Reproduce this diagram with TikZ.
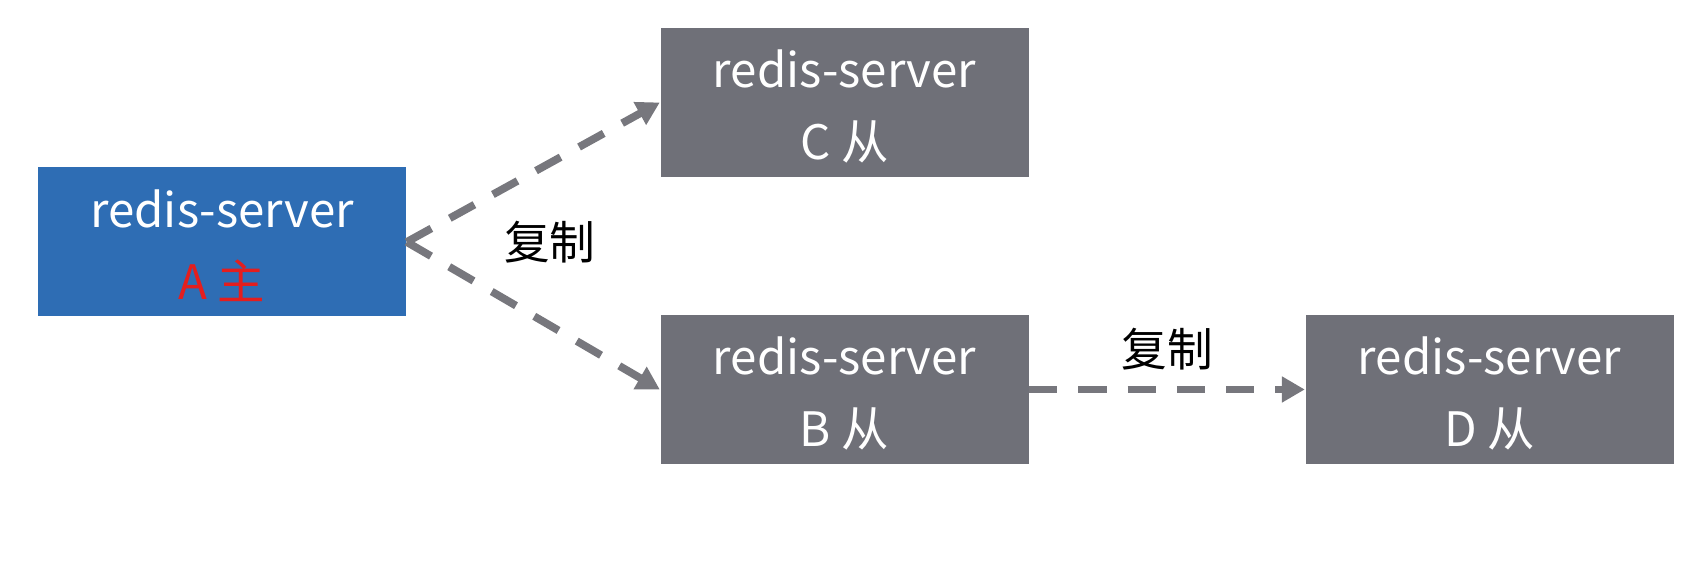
\documentclass[tikz,border=0pt]{standalone}
\usepackage{fontspec}
\setmainfont{Noto Sans CJK SC}
\usetikzlibrary{arrows.meta}
\definecolor{masterblue}{RGB}{46,109,180}
\definecolor{slavegray}{RGB}{111,112,120}
\definecolor{arrowgray}{RGB}{119,119,125}
\definecolor{masterred}{RGB}{228,30,30}
\tikzset{
    server/.style={minimum width=3.68cm, minimum height=1.49cm, inner sep=0pt,
        align=center, text=white, font=\fontsize{13.5}{20.5}\selectfont},
    master/.style={server, fill=masterblue},
    slave/.style={server, fill=slavegray},
    copyline/.style={draw=arrowgray, line width=2.2pt, dash pattern=on 8pt off 6pt,
        -{Triangle[length=6.5pt,width=7pt]}},
    copylabel/.style={font=\fontsize{13}{15}\selectfont}
}
\begin{document}
\begin{tikzpicture}
    % constants
    \def\leftcol{2.22}
    \def\midcol{8.445}
    \def\rightcol{14.895}
    \def\toprow{4.815}
    \def\botrow{1.945}
    \def\topstrut{\rule{0pt}{13pt}}
    \useasboundingbox (0,0) rectangle (16.92,5.84);
    % master node
    \node [master] (A) at (\leftcol, 3.42) {\topstrut redis-server\\\textcolor{masterred}{A 主}};
    % slave nodes
    \node [slave] (C) at (\midcol, \toprow) {\topstrut redis-server\\C 从};
    \node [slave] (B) at (\midcol, \botrow) {\topstrut redis-server\\B 从};
    \node [slave] (D) at (\rightcol, \botrow) {\topstrut redis-server\\D 从};
    % replication arrows
    \draw [copyline] (A.east) -- (C.west);
    \draw [copyline] (A.east) -- (B.west);
    \draw [copyline] (B.east) -- (D.west) node [copylabel, midway, above=0.04cm] (copyBD) {复制};
    % label between the two master arrows
    \node [copylabel] (copyAC) at ([xshift=1.43cm]A.east) {复制};
\end{tikzpicture}
\end{document}
